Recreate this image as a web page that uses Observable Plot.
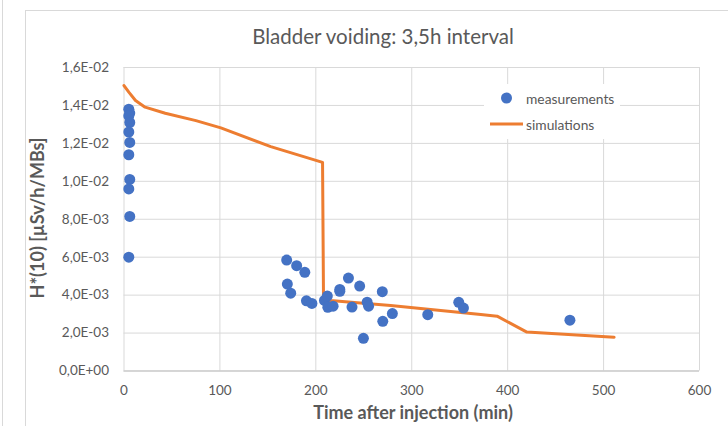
<!DOCTYPE html>
<html>
<head>
<meta charset="utf-8">
<script src="https://cdn.jsdelivr.net/npm/d3@7"></script>
<script src="https://cdn.jsdelivr.net/npm/@observablehq/plot@0.6"></script>
<style>
  html, body { margin: 0; padding: 0; background: #fff; }
  #wrap { position: relative; width: 728px; height: 426px; overflow: hidden; font-family: Lato, "Open Sans", sans-serif; color: #595959; }
  #wrap svg.plot { position: absolute; left: 0; top: 0; }
  .frame { position: absolute; left: 25px; top: 10px; width: 720px; height: 430px; border: 1px solid #d9d9d9; box-sizing: border-box; }
  .leftline { position: absolute; left: 2px; top: 0; width: 1px; height: 426px; background: #d9d9d9; }
  .title { position: absolute; left: 0; width: 766px; top: 24px; text-align: center; font-size: 20.5px; color: #595959; }
  .xtitle { position: absolute; left: 0; width: 826px; top: 401px; text-align: center; font-size: 18px; font-weight: bold; color: #595959; line-height: 22px; }
  .ytitle { position: absolute; left: 37px; top: 218px; transform: translate(-50%, -50%) rotate(-90deg); white-space: nowrap; font-size: 18px; font-weight: bold; color: #595959; line-height: 22px; }
  .legend { position: absolute; left: 484px; top: 84px; width: 136px; height: 55px; background: #fff; font-size: 13.8px; color: #595959; }
  .legend .item { position: absolute; left: 0; height: 20px; display: flex; align-items: center; white-space: nowrap; }
  .legend svg { display: block; }
</style>
</head>
<body>
<div id="wrap">
  <div class="leftline"></div>
  <div class="frame"></div>
</div>
<script>
// Measurements: time after injection (min) and H*(10) (µSv/h/MBs)
const measTime = [5, 6, 5, 6, 5, 6, 5, 6, 5, 6, 5,
  169.6, 180, 188.5, 170.3, 173.8, 190.2, 195.9, 209, 212, 212.5, 218, 225, 225, 234, 237.7,
  245.7, 249.6, 253.5, 255, 269.3, 269.8, 279.8, 316.7, 349, 353.9, 464.9];
const measValue = [1.38e-2, 1.36e-2, 1.345e-2, 1.31e-2, 1.26e-2, 1.205e-2, 1.14e-2, 1.01e-2, 9.6e-3, 8.15e-3, 6.0e-3,
  5.85e-3, 5.55e-3, 5.2e-3, 4.58e-3, 4.1e-3, 3.7e-3, 3.56e-3, 3.72e-3, 3.95e-3, 3.36e-3, 3.42e-3, 4.3e-3, 4.2e-3, 4.9e-3, 3.37e-3,
  4.48e-3, 1.72e-3, 3.63e-3, 3.42e-3, 4.18e-3, 2.62e-3, 3.03e-3, 2.97e-3, 3.62e-3, 3.32e-3, 2.68e-3];

// Simulation curve
const simTime = [0, 5, 12, 22, 43, 75, 101, 153, 207, 208, 215, 278, 372, 389, 420, 511];
const simValue = [1.505e-2, 1.47e-2, 1.426e-2, 1.391e-2, 1.359e-2, 1.32e-2, 1.282e-2, 1.183e-2, 1.10e-2, 3.8e-3, 3.72e-3, 3.45e-3, 2.98e-3, 2.89e-3, 2.05e-3, 1.78e-3];

const xTicks = [0, 100, 200, 300, 400, 500, 600];
const yTicks = [0, 0.002, 0.004, 0.006, 0.008, 0.010, 0.012, 0.014, 0.016];

const titleText = "Bladder voiding: 3,5h interval";
const xLabel = "Time after injection (min)";
const yLabel = "H*(10) [µSv/h/MBs]";
const seriesNames = ["measurements", "simulations"];

const meas = measTime.map((t, i) => ({t, v: measValue[i]}));
const sim = simTime.map((t, i) => ({t, v: simValue[i]}));

function sci(d) {
  if (d === 0) return "0,0E+00";
  const e = Math.floor(Math.log10(d) + 1e-9);
  const m = d / Math.pow(10, e);
  return m.toFixed(1).replace(".", ",") + "E" + (e < 0 ? "-" : "+") + String(Math.abs(e)).padStart(2, "0");
}

const blue = "#4472C4", orange = "#ED7D31", grid = "#d9d9d9", txt = "#595959";

const chart = Plot.plot({
  width: 728,
  height: 426,
  marginLeft: 123.5,
  marginRight: 29,
  marginTop: 67,
  marginBottom: 55.5,
  style: {fontFamily: "Lato, 'Open Sans', sans-serif", fontSize: "13.5px", color: txt, background: "transparent", overflow: "visible"},
  x: {domain: [0, 600]},
  y: {domain: [0, 0.016]},
  marks: [
    Plot.gridY(yTicks, {stroke: grid, strokeOpacity: 1, strokeWidth: 1}),
    Plot.gridX(xTicks, {stroke: grid, strokeOpacity: 1, strokeWidth: 1}),
    Plot.ruleY([0], {stroke: "#bfbfbf"}),
    Plot.axisY(yTicks, {tickFormat: sci, tickSize: 0, tickPadding: 15, fill: txt, label: null, fontSize: 13.5}),
    Plot.axisX(xTicks, {tickFormat: d => String(d), tickSize: 0, tickPadding: 14, fill: txt, label: null, fontSize: 13.5}),
    Plot.line(sim, {x: "t", y: "v", stroke: orange, strokeWidth: 3, strokeLinejoin: "round"}),
    Plot.dot(meas, {x: "t", y: "v", r: 5.5, fill: blue, stroke: "none"})
  ]
});
chart.classList.add("plot");
const wrap = document.getElementById("wrap");
wrap.appendChild(chart);

function addDiv(cls, text) {
  const d = document.createElement("div");
  d.className = cls;
  if (text) d.textContent = text;
  wrap.appendChild(d);
  return d;
}
addDiv("title", titleText);
addDiv("xtitle", xLabel);
addDiv("ytitle", yLabel);

const leg = addDiv("legend");
leg.innerHTML =
  `<div class="item" style="top:4px;left:6px"><svg width="36" height="20"><circle cx="16.5" cy="10" r="5.5" fill="${blue}"/></svg><span>${seriesNames[0]}</span></div>` +
  `<div class="item" style="top:30px;left:6px"><svg width="36" height="20"><line x1="0" x2="33" y1="10" y2="10" stroke="${orange}" stroke-width="3"/></svg><span>${seriesNames[1]}</span></div>`;
</script>
</body>
</html>
